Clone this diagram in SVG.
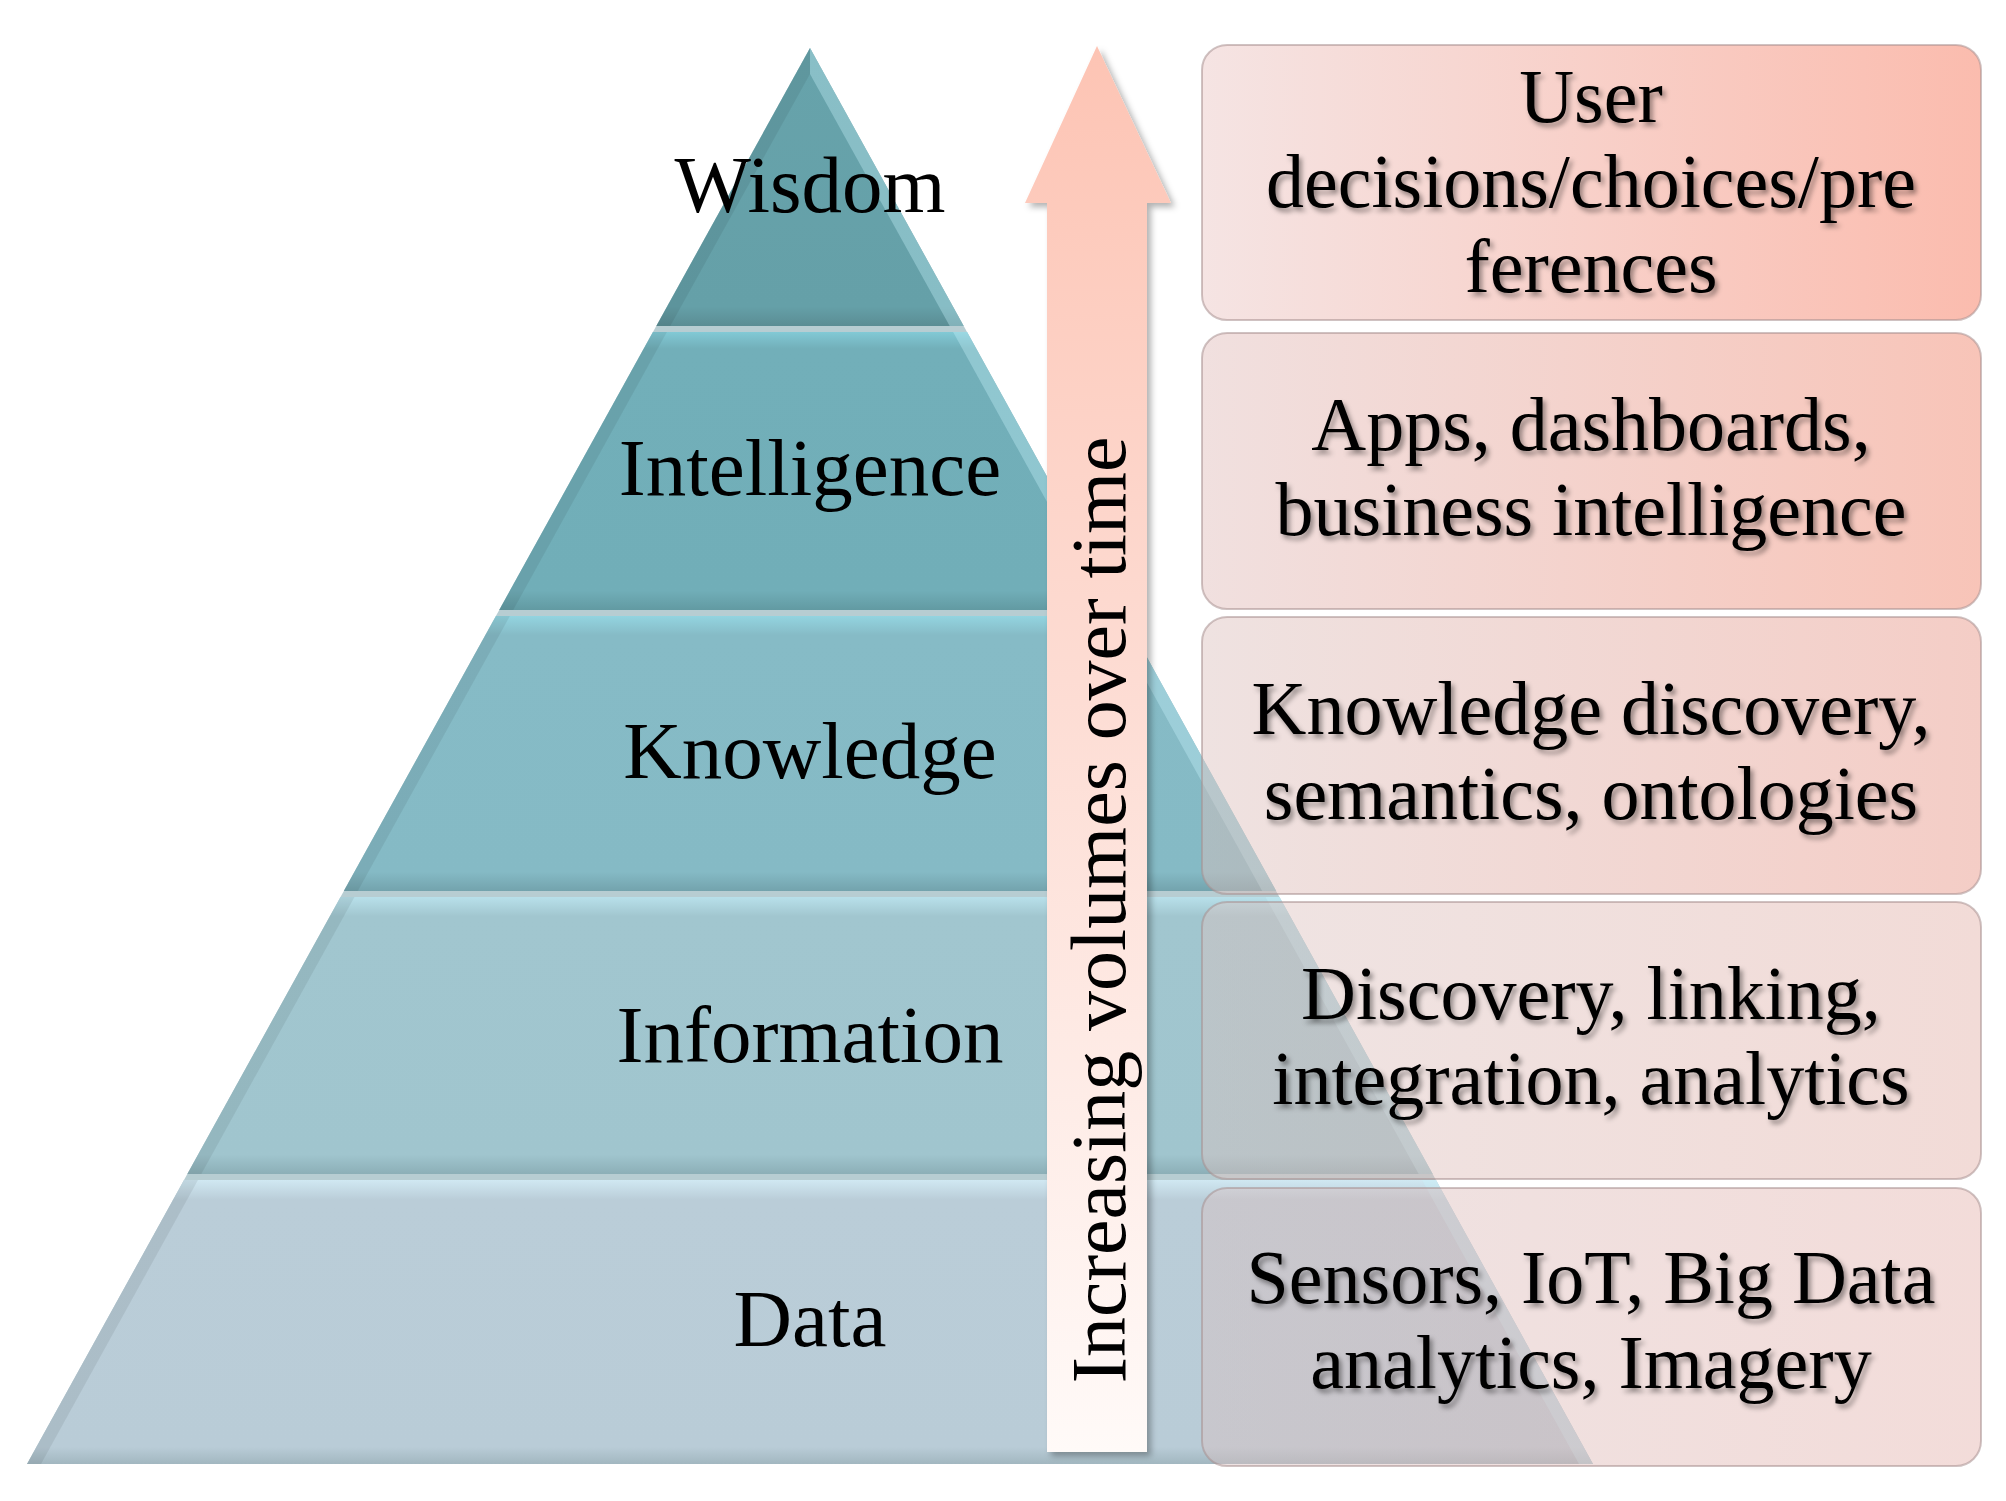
<svg xmlns="http://www.w3.org/2000/svg" width="2006" height="1501" viewBox="0 0 2006 1501">
<defs>
<style>
.lbl{font-family:"Liberation Serif","Times New Roman",serif;font-size:81px;fill:#000;text-anchor:middle}
.btx{font-family:"Liberation Serif","Times New Roman",serif;font-size:76px;fill:#000;text-anchor:middle}
.vt{font-family:"Liberation Serif","Times New Roman",serif;font-size:78px;fill:#000;text-anchor:middle}
.box{stroke:#a89090;stroke-opacity:0.55;stroke-width:2}
.ls{fill:#000;fill-opacity:0.07}
.rs{fill:#c8f4fb;fill-opacity:0.35}
</style>
<linearGradient id="gW" x1="0" y1="0" x2="0" y2="1">
<stop offset="0" stop-color="#67a3ab"/><stop offset="0.93" stop-color="#65a0a8"/><stop offset="1" stop-color="#5b8d94"/>
</linearGradient>
<linearGradient id="gI" x1="0" y1="0" x2="0" y2="1">
<stop offset="0" stop-color="#82c9d5"/><stop offset="0.06" stop-color="#72afb9"/><stop offset="0.93" stop-color="#71aeb8"/><stop offset="1" stop-color="#629aa2"/>
</linearGradient>
<linearGradient id="gK" x1="0" y1="0" x2="0" y2="1">
<stop offset="0" stop-color="#93d4e0"/><stop offset="0.07" stop-color="#86bbc6"/><stop offset="0.93" stop-color="#85bac5"/><stop offset="1" stop-color="#73a3ad"/>
</linearGradient>
<linearGradient id="gInf" x1="0" y1="0" x2="0" y2="1">
<stop offset="0" stop-color="#b8e0ea"/><stop offset="0.07" stop-color="#a1c6cf"/><stop offset="0.93" stop-color="#a0c5ce"/><stop offset="1" stop-color="#8cafb7"/>
</linearGradient>
<linearGradient id="gD" x1="0" y1="0" x2="0" y2="1">
<stop offset="0" stop-color="#d0e8f2"/><stop offset="0.07" stop-color="#bacdd8"/><stop offset="0.94" stop-color="#b9ccd7"/><stop offset="1" stop-color="#a2b7c0"/>
</linearGradient>
<linearGradient id="gA" gradientUnits="userSpaceOnUse" x1="0" y1="46" x2="0" y2="1452">
<stop offset="0" stop-color="#fdc4b4"/><stop offset="0.45" stop-color="#fddcd3"/><stop offset="1" stop-color="#fffaf8"/>
</linearGradient>
<linearGradient id="b1" x1="0" y1="0" x2="1" y2="0">
<stop offset="0" stop-color="#e9c3c1" stop-opacity="0.45"/><stop offset="1" stop-color="#f66a4b" stop-opacity="0.45"/>
</linearGradient>
<linearGradient id="b2" x1="0" y1="0" x2="1" y2="0">
<stop offset="0" stop-color="#dfbab8" stop-opacity="0.45"/><stop offset="1" stop-color="#ef7c61" stop-opacity="0.45"/>
</linearGradient>
<linearGradient id="b3" x1="0" y1="0" x2="1" y2="0">
<stop offset="0" stop-color="#dbbfbc" stop-opacity="0.45"/><stop offset="1" stop-color="#e79080" stop-opacity="0.45"/>
</linearGradient>
<linearGradient id="b4" x1="0" y1="0" x2="1" y2="0">
<stop offset="0" stop-color="#dbc3c1" stop-opacity="0.45"/><stop offset="1" stop-color="#e2afa6" stop-opacity="0.45"/>
</linearGradient>
<linearGradient id="b5" x1="0" y1="0" x2="1" y2="0">
<stop offset="0" stop-color="#d9c1c1" stop-opacity="0.45"/><stop offset="1" stop-color="#e4b1ab" stop-opacity="0.45"/>
</linearGradient>
<filter id="tsh" x="-10%" y="-30%" width="120%" height="160%">
<feDropShadow dx="3" dy="4" stdDeviation="2.5" flood-color="#000" flood-opacity="0.4"/>
</filter>
<filter id="ash" x="-20%" y="-5%" width="140%" height="110%">
<feDropShadow dx="4" dy="4" stdDeviation="3" flood-color="#000" flood-opacity="0.3"/>
</filter>
</defs>
<rect width="2006" height="1501" fill="#fff"/>

<g id="pyramid">
<polygon points="810,48 1593,1464 27,1464" fill="#b7cdd2"/>
<g id="wisdom">
<polygon points="810,48 963.7,326 656.3,326" fill="url(#gW)"/>
<polygon class="ls" points="810,48 656.3,326 670.3,326 810,74"/>
<polygon class="rs" points="810,48 963.7,326 949.7,326 810,74"/>
<text class="lbl" x="810" y="212">Wisdom</text>
</g>
<g id="intelligence">
<polygon points="652.9,332 967.1,332 1120.8,610 499.2,610" fill="url(#gI)"/>
<polygon class="ls" points="652.9,332 666.9,332 513.2,610 499.2,610"/>
<polygon class="rs" points="953.1,332 967.1,332 1120.8,610 1106.8,610"/>
<text class="lbl" x="810" y="495">Intelligence</text>
</g>
<g id="knowledge">
<polygon points="495.9,616 1124.1,616 1276.2,891 343.8,891" fill="url(#gK)"/>
<polygon class="ls" points="495.9,616 509.9,616 357.8,891 343.8,891"/>
<polygon class="rs" points="1110.1,616 1124.1,616 1276.2,891 1262.2,891"/>
<text class="lbl" x="810" y="778">Knowledge</text>
</g>
<g id="information">
<polygon points="340.5,897 1279.5,897 1432.7,1174 187.3,1174" fill="url(#gInf)"/>
<polygon class="ls" points="340.5,897 354.5,897 201.3,1174 187.3,1174"/>
<polygon class="rs" points="1265.5,897 1279.5,897 1432.7,1174 1418.7,1174"/>
<text class="lbl" x="810" y="1062">Information</text>
</g>
<g id="data">
<polygon points="184,1180 1436,1180 1593,1464 27,1464" fill="url(#gD)"/>
<polygon class="ls" points="184,1180 198,1180 41,1464 27,1464"/>
<polygon class="rs" points="1422,1180 1436,1180 1593,1464 1579,1464"/>
<text class="lbl" x="810" y="1346">Data</text>
</g>
</g>

<g id="connectors">
<g id="arrow" filter="url(#ash)">
<polygon points="1097,46 1171,203 1147,203 1147,1452 1047,1452 1047,203 1025,203" fill="url(#gA)"/>
</g>
<text class="vt" transform="translate(1125,910) rotate(-90)" x="0" y="0" textLength="947" lengthAdjust="spacingAndGlyphs">Increasing volumes over time</text>
</g>

<g id="box1">
<rect class="box" x="1202" y="45" width="779" height="275" rx="25" fill="url(#b1)"/>
<g filter="url(#tsh)">
<text class="btx" x="1591" y="122">User</text>
<text class="btx" x="1591" y="207">decisions/choices/pre</text>
<text class="btx" x="1591" y="292">ferences</text>
</g>
</g>
<g id="box2">
<rect class="box" x="1202" y="333" width="779" height="276" rx="25" fill="url(#b2)"/>
<g filter="url(#tsh)">
<text class="btx" x="1591" y="450">Apps, dashboards,</text>
<text class="btx" x="1591" y="535">business intelligence</text>
</g>
</g>
<g id="box3">
<rect class="box" x="1202" y="617" width="779" height="277" rx="25" fill="url(#b3)"/>
<g filter="url(#tsh)">
<text class="btx" x="1591" y="734">Knowledge discovery,</text>
<text class="btx" x="1591" y="819">semantics, ontologies</text>
</g>
</g>
<g id="box4">
<rect class="box" x="1202" y="902" width="779" height="277" rx="25" fill="url(#b4)"/>
<g filter="url(#tsh)">
<text class="btx" x="1591" y="1019">Discovery, linking,</text>
<text class="btx" x="1591" y="1104">integration, analytics</text>
</g>
</g>
<g id="box5">
<rect class="box" x="1202" y="1188" width="779" height="278" rx="25" fill="url(#b5)"/>
<g filter="url(#tsh)">
<text class="btx" x="1591" y="1303">Sensors, IoT, Big Data</text>
<text class="btx" x="1591" y="1388">analytics, Imagery</text>
</g>
</g>
</svg>
